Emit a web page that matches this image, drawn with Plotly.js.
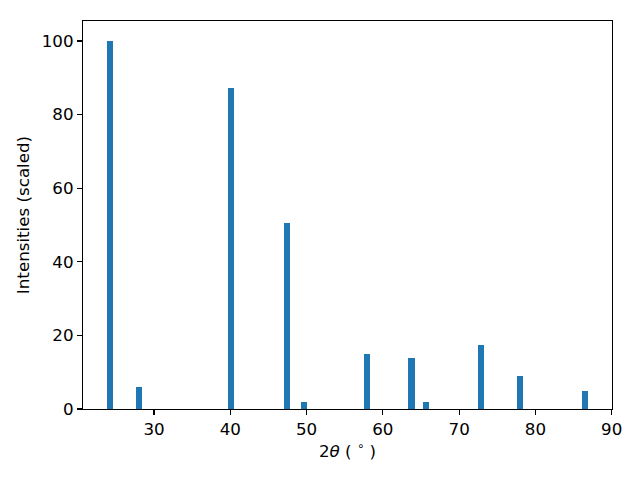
<!DOCTYPE html>
<html>
<head>
<meta charset="utf-8">
<script src="https://cdn.plot.ly/plotly-3.0.1.min.js"></script>
<style>html,body{margin:0;padding:0;background:#fff;}#chart{width:640px;height:480px;}</style>
</head>
<body>
<div id="chart"></div>
<script>
// 2-theta peak positions (degrees)
const twoTheta = [24.23, 28.03, 40.09, 47.44, 49.66, 57.92, 63.76, 65.66, 72.87, 77.98, 86.50];
// scaled intensities
const intensities = [100, 6.0, 87.1, 50.5, 1.9, 14.9, 13.9, 1.9, 17.4, 9.0, 4.9];
const barWidth = 0.8;
const xTicks = [30, 40, 50, 60, 70, 80, 90];
const yTicks = [0, 20, 40, 60, 80, 100];

const font = {family: 'DejaVu Sans, sans-serif', size: 16.7, color: '#000'};

const trace = {
  type: 'bar',
  x: twoTheta,
  y: intensities,
  width: barWidth,
  marker: {color: '#1f77b4', line: {width: 0}},
  hoverinfo: 'x+y'
};

const axisCommon = {
  showline: true, mirror: true, linecolor: '#000', linewidth: 1.1,
  ticks: 'outside', ticklen: 5, tickwidth: 1.1, tickcolor: '#000',
  showgrid: false, zeroline: false, tickfont: font
};

const layout = {
  width: 640, height: 480,
  margin: {l: 83, r: 28, t: 21, b: 71},
  paper_bgcolor: '#fff', plot_bgcolor: '#fff',
  font: font,
  showlegend: false,
  bargap: 0,
  xaxis: Object.assign({}, axisCommon, {
    range: [20.69, 90.04],
    tickvals: xTicks, ticktext: xTicks.map(String),
    title: {text: '2<i>θ</i> ( <sup>∘</sup> )', font: font, standoff: 7}
  }),
  yaxis: Object.assign({}, axisCommon, {
    range: [0, 105.43],
    tickvals: yTicks, ticktext: yTicks.map(String),
    title: {text: 'Intensities (scaled)', font: font, standoff: 7}
  })
};

Plotly.newPlot('chart', [trace], layout, {displayModeBar: false, staticPlot: true});
</script>
</body>
</html>
